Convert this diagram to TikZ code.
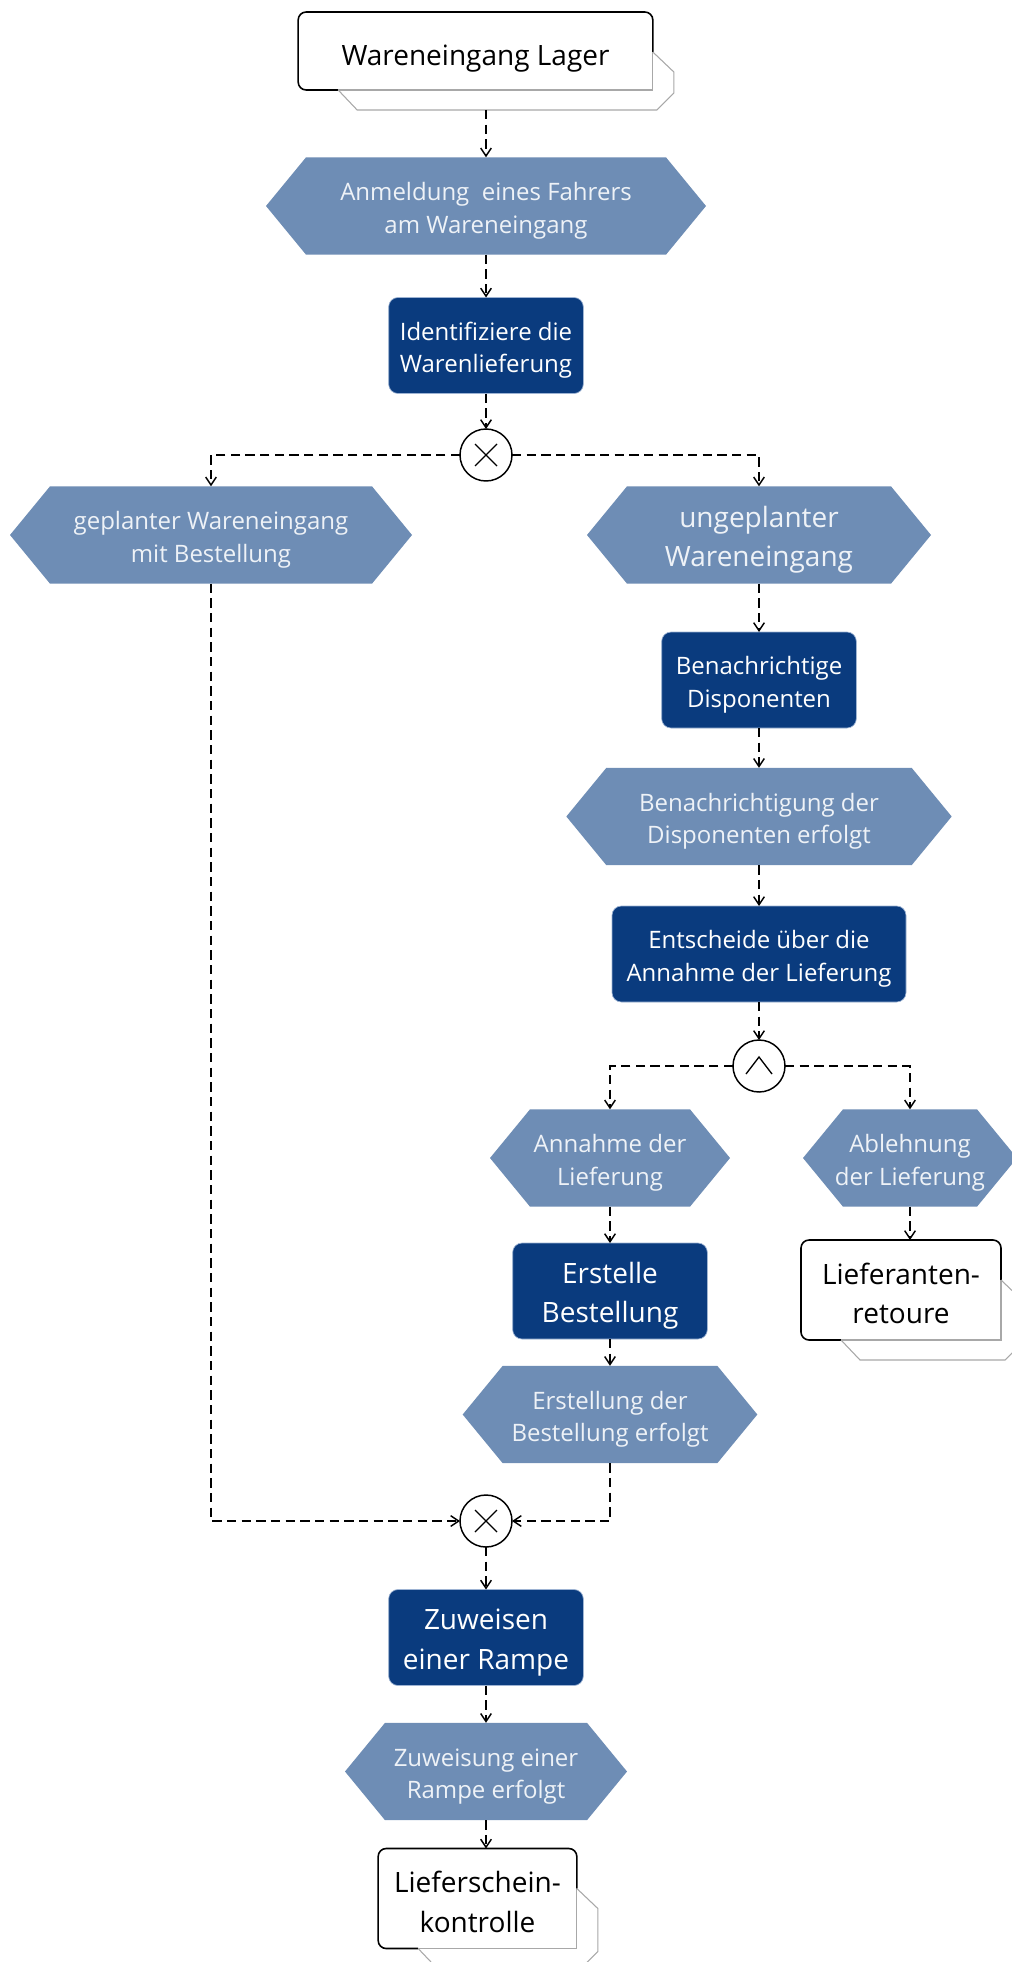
\documentclass[tikz,border=0pt]{standalone}
\usepackage{fontspec}
\setmainfont{Open Sans}
\usepackage{tikz}
\usetikzlibrary{positioning}
\usetikzlibrary{arrows.meta}
\usetikzlibrary{calc}
\definecolor{evblue}{HTML}{6E8DB5}
\definecolor{evtext}{HTML}{EEF2F7}
\definecolor{fnblue}{HTML}{0A3B7E}
\definecolor{fnedge}{HTML}{9DB3D3}
\definecolor{pigray}{HTML}{A8A8A8}
\newcommand\txtnorm{\fontsize{18}{24.5}\selectfont}
\newcommand\txtbig{\fontsize{21}{29.5}\selectfont}
% pushes the text block down a little inside its shape
\newcommand\tpad{\rule{0pt}{21pt}}
\newcommand\tpadbig{\rule{0pt}{23pt}}
\tikzset{
    evnode/.style = {rectangle, inner sep=0pt, outer sep=0pt, minimum height=73pt, align=center, fill=white, text=evtext, font=\txtnorm,
        path picture={\fill[evblue] (path picture bounding box.west) -- ([xshift=30pt]path picture bounding box.north west) -- ([xshift=-30pt]path picture bounding box.north east) -- (path picture bounding box.east) -- ([xshift=-30pt]path picture bounding box.south east) -- ([xshift=30pt]path picture bounding box.south west) -- cycle;}},
    fnnode/.style = {rectangle, rounded corners=7pt, fill=fnblue, draw=fnedge, line width=0.5pt, inner sep=0pt, outer sep=0pt, minimum width=146pt, minimum height=72pt, align=center, text=white, font=\txtnorm},
    pinode/.style = {rectangle, fill=white, inner sep=0pt, outer sep=0pt, minimum height=75pt, align=center, text=black, font=\txtbig},
    xornode/.style = {circle, draw=black, line width=1.1pt, fill=white, minimum size=39pt, inner sep=0pt, outer sep=0pt,
        path picture={\draw[line width=1pt] (path picture bounding box.center) +(-11,-11) -- +(11,11) +(-11,11) -- +(11,-11);}},
    andnode/.style = {circle, draw=black, line width=1.1pt, fill=white, minimum size=39pt, inner sep=0pt, outer sep=0pt,
        path picture={\draw[line width=1pt] (path picture bounding box.center) +(-13,8) -- +(0,-9) -- +(13,8);}},
    pidark/.style = {draw=black, line width=1.2pt},
    pilight/.style = {draw=pigray, line width=0.8pt},
    edgef/.style = {line width=1.1pt, dash pattern=on 7pt off 4pt, -{Straight Barb[length=6pt,width=8pt]}}
}
% frame and back sheet of a process interface
\newcommand\piframe[1]{%
  \draw[pidark, rounded corners=6pt] ($(#1.south west)+(40,0)$) -- (#1.south west) -- (#1.north west) -- (#1.north east) -- ($(#1.north east)+(0,40)$);
  \draw[pilight] ($(#1.north east)+(0,40)$) -- (#1.south east) -- ($(#1.south west)+(40,0)$);
  \draw[pilight] ($(#1.north east)+(0,40)$) -- ($(#1.north east)+(21,60)$) -- ($(#1.south east)+(21,3)$) -- ($(#1.south east)+(4,20)$) -- ($(#1.south west)+(59,20)$) -- ($(#1.south west)+(40,0)$);
  \coordinate (#1-s) at ($(#1.south)+(0,20)$);
}
\begin{document}
\begin{tikzpicture}[x=0.75pt, y=-0.75pt, font=\txtnorm]
  \useasboundingbox (0,0) rectangle (1011,1962);
  \node[pinode, minimum width=266pt, minimum height=58.5pt] (lager) at (475.5,51) {\rule{0pt}{27pt}Wareneingang Lager};
  \node[evnode, minimum width=330pt] (anmeldung) at (486,206) {\tpad Anmeldung~ eines Fahrers\\am Wareneingang};
  \node[fnnode] (identifiziere) at (486,345.5) {\tpad Identifiziere die\\Warenlieferung};
  \node[xornode] (xorsplit) at (486,455) {};
  % left branch
  \node[evnode, minimum width=301.5pt] (geplant) at (211,535) {\tpad geplanter Wareneingang\\mit Bestellung};
  % right branch
  \node[evnode, minimum width=258pt, font=\txtbig] (ungeplant) at (759,535) {\tpadbig ungeplanter\\Wareneingang};
  \node[fnnode] (benachrichtige) at (759,680) {\tpad Benachrichtige\\Disponenten};
  \node[evnode, minimum width=289pt] (benachrichtigt) at (759,816.5) {\tpad Benachrichtigung der\\Disponenten erfolgt};
  \node[fnnode, minimum width=220.5pt] (entscheide) at (759,954) {\tpad Entscheide über die\\Annahme der Lieferung};
  \node[andnode] (andsplit) at (759,1066) {};
  \node[evnode, minimum width=180pt] (annahme) at (610,1158) {\tpad Annahme der\\Lieferung};
  \node[evnode, minimum width=160.5pt] (ablehnung) at (910,1158) {\tpad Ablehnung\\der Lieferung};
  \node[fnnode, font=\txtbig] (erstelle) at (610,1291) {\tpadbig Erstelle\\Bestellung};
  \node[pinode, minimum width=150pt] (retoure) at (901,1290) {\tpad Lieferanten-\\retoure};
  \node[evnode, minimum width=221pt] (erstellt) at (610,1414.5) {\tpad Erstellung der\\Bestellung erfolgt};
  % join
  \node[xornode] (xorjoin) at (486,1521) {};
  \node[fnnode, font=\txtbig] (zuweisen) at (486,1637.5) {\tpadbig Zuweisen\\einer Rampe};
  \node[evnode, minimum width=211.5pt] (zugewiesen) at (486,1771.5) {\tpad Zuweisung einer\\Rampe erfolgt};
  \node[pinode, minimum width=149pt] (kontrolle) at (477.5,1898.5) {\tpad Lieferschein-\\kontrolle};

  \piframe{lager}
  \piframe{retoure}
  \piframe{kontrolle}

  \draw[edgef] (anmeldung.north |- lager-s) -- (anmeldung.north);
  \draw[edgef] (anmeldung.south) -- (identifiziere.north);
  \draw[edgef] (identifiziere.south) -- (xorsplit.north);
  \draw[edgef] (xorsplit.west) -| (geplant.north);
  \draw[edgef] (xorsplit.east) -| (ungeplant.north);
  \draw[edgef] (ungeplant.south) -- (benachrichtige.north);
  \draw[edgef] (benachrichtige.south) -- (benachrichtigt.north);
  \draw[edgef] (benachrichtigt.south) -- (entscheide.north);
  \draw[edgef] (entscheide.south) -- (andsplit.north);
  \draw[edgef] (andsplit.west) -| (annahme.north);
  \draw[edgef] (andsplit.east) -| (ablehnung.north);
  \draw[edgef] (annahme.south) -- (erstelle.north);
  \draw[edgef] (erstelle.south) -- (erstellt.north);
  \draw[edgef] (ablehnung.south) -- (ablehnung.south |- retoure.north);
  \draw[edgef] (geplant.south) |- (xorjoin.west);
  \draw[edgef] (erstellt.south) |- (xorjoin.east);
  \draw[edgef] (xorjoin.south) -- (zuweisen.north);
  \draw[edgef] (zuweisen.south) -- (zugewiesen.north);
  \draw[edgef] (zugewiesen.south) -- (zugewiesen.south |- kontrolle.north);
\end{tikzpicture}
\end{document}
